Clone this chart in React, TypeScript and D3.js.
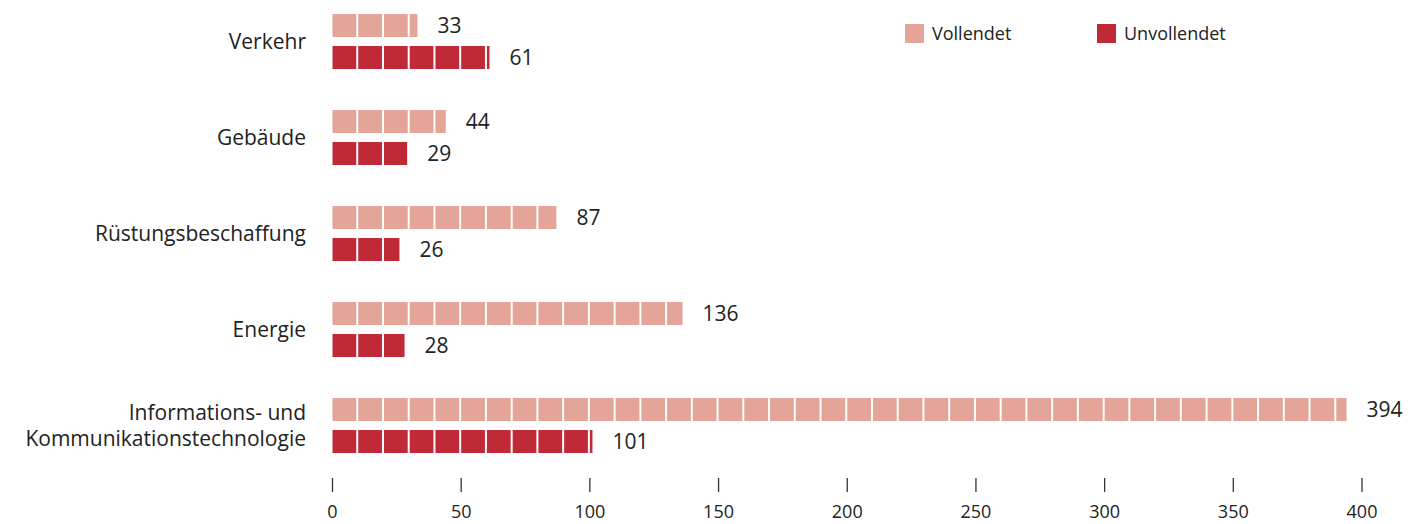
import React from 'react';
import * as d3 from 'd3';

const categories = [
  ['Verkehr'],
  ['Gebäude'],
  ['Rüstungsbeschaffung'],
  ['Energie'],
  ['Informations- und', 'Kommunikationstechnologie'],
];
const completed = [33, 44, 87, 136, 394];
const uncompleted = [61, 29, 26, 28, 101];
const seriesNames = ['Vollendet', 'Unvollendet'];
const seriesColors = ['#E4A598', '#C02A37'];
const xTicks = [0, 50, 100, 150, 200, 250, 300, 350, 400];

const width = 1419;
const height = 524;
const font = '"Open Sans", "Noto Sans", sans-serif';

const App = () => {
  const keys = categories.map((c) => c.join(' '));

  const x = d3.scaleLinear().domain([0, 400]).range([332.5, 1362]);
  const y = d3.scaleBand().domain(keys).range([14, 494]).paddingInner(0);
  // sub band for the two series inside a group
  const sub = d3.scaleBand().domain(seriesNames).range([0, 55]).paddingInner(0.28125);

  const segUnit = 10; // bars are split into blocks of 10
  const gap = 2;

  const segments = (v: number) =>
    d3.range(0, v, segUnit).map((s) => {
      const e = Math.min(s + segUnit, v);
      const full = e - s === segUnit;
      return { x0: x(s), x1: full ? x(e) - gap : x(e) };
    });

  return (
    <svg
      width={width}
      height={height}
      style={{ position: 'absolute', left: 0, top: 0 }}
      fontFamily={font}
    >
      {keys.map((k, i) => {
        const gy = y(k)!;
        const vals = [completed[i], uncompleted[i]];
        const lines = categories[i];
        const cy = gy + 27.5;
        return (
          <g key={k}>
            {lines.map((l, j) => (
              <text
                key={l}
                x={306}
                y={cy + (j - (lines.length - 1) / 2) * 26}
                dy="0.35em"
                textAnchor="end"
                fontSize={21}
                fill="#222"
              >
                {l}
              </text>
            ))}
            {vals.map((v, s) => {
              const by = gy + sub(seriesNames[s])!;
              const bh = sub.bandwidth();
              return (
                <g key={s}>
                  {segments(v).map((sg, n) => (
                    <rect
                      key={n}
                      x={sg.x0}
                      y={by}
                      width={Math.max(sg.x1 - sg.x0, 0)}
                      height={bh}
                      fill={seriesColors[s]}
                    />
                  ))}
                  <text
                    x={x(v) + 20}
                    y={by + bh / 2}
                    dy="0.35em"
                    fontSize={21}
                    fill="#222"
                  >
                    {v}
                  </text>
                </g>
              );
            })}
          </g>
        );
      })}

      {/* x axis ticks, no domain line */}
      {xTicks.map((t) => (
        <g key={t}>
          <line x1={x(t)} x2={x(t)} y1={478} y2={492} stroke="#333" strokeWidth={1.3} />
          <text x={x(t)} y={518} textAnchor="middle" fontSize={18} fill="#222">
            {t}
          </text>
        </g>
      ))}

      {/* legend */}
      {seriesNames.map((n, i) => {
        const lx = 905 + i * 192;
        return (
          <g key={n}>
            <rect x={lx} y={24} width={19} height={19} fill={seriesColors[i]} />
            <text x={lx + 27} y={33.5} dy="0.35em" fontSize={18} fill="#222">
              {n}
            </text>
          </g>
        );
      })}
    </svg>
  );
};

export default App;
